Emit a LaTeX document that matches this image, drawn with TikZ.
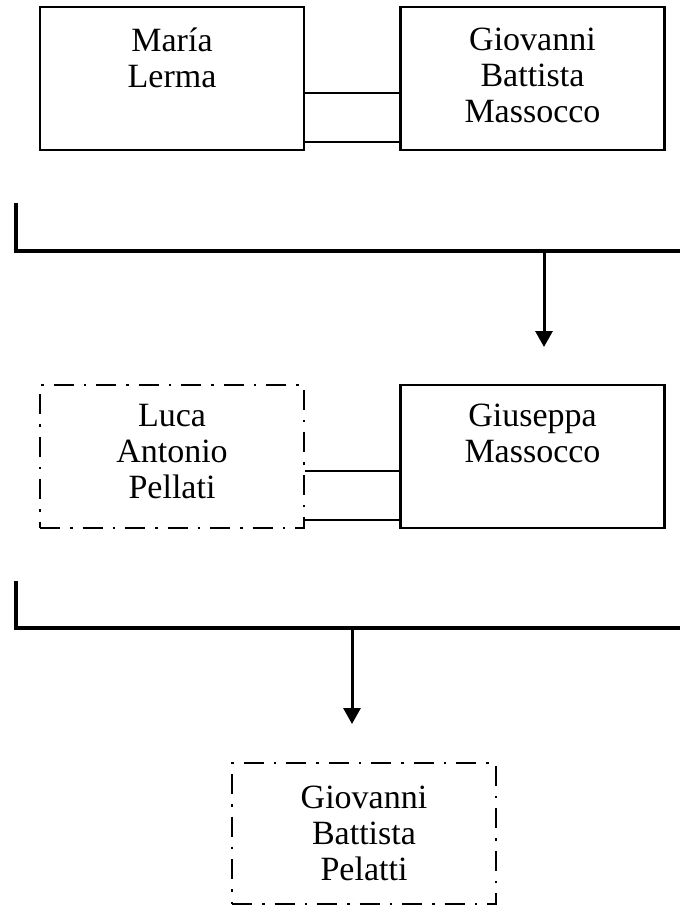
\documentclass[tikz,border=0pt]{standalone}
\usepackage{fontspec}
\setmainfont{Liberation Serif}
\usetikzlibrary{arrows.meta}

\begin{document}
\begin{tikzpicture}[x=1pt,y=-1pt,
	caja/.style={draw,line width=2.5pt,minimum width=264pt,minimum height=143pt,inner sep=0pt},
	cajapunto/.style={caja,dash pattern=on 20pt off 10pt on 2.5pt off 10pt},
	nombre/.style={anchor=north,align=center,inner sep=0pt,font=\fontsize{34}{36}\selectfont,execute at begin node=\strut},
	union/.style={line width=2pt},
	barra/.style={line width=3.5pt},
	flecha/.style={line width=3pt,-{Triangle[width=17pt,length=16pt]}}]
	\useasboundingbox (0,0) rectangle (680,906);

		% premiere generation
		\node[caja] (ML) at (172,78.5) {};
		\node[caja] (GBM) at (532.5,78.5) {};
		\node[nombre] (MLt) at ([yshift=-22pt]ML.north) {María\\Lerma};
		\node[nombre] (GBMt) at ([yshift=-22pt]GBM.north) {Giovanni\\Battista\\Massocco};
		\draw[union] ([yshift=-14.5pt]ML.east)--([yshift=-14.5pt]GBM.west);
		\draw[union] ([yshift=9pt]ML.south east)--([yshift=9pt]GBM.south west);

		\coordinate (P1) at (16,203);
		\coordinate (Q1) at (16,251);
		\coordinate (R1) at (684,251);
		\coordinate (F1) at (544,251);
		\coordinate (T1) at (544,347);
		\draw[barra] (P1)--(Q1)--(R1);
		\draw[flecha] (F1)--(T1);

		% deuxieme generation
		\node[cajapunto] (LAP) at (172,456.5) {};
		\node[caja] (GM) at (532.5,456.5) {};
		\node[nombre] (LAPt) at ([yshift=-20pt]LAP.north) {Luca\\Antonio\\Pellati};
		\node[nombre] (GMt) at ([yshift=-20pt]GM.north) {Giuseppa\\Massocco};
		\draw[union] ([yshift=-14.5pt]LAP.east)--([yshift=-14.5pt]GM.west);
		\draw[union] ([yshift=9pt]LAP.south east)--([yshift=9pt]GM.south west);

		\coordinate (P2) at (16,581);
		\coordinate (Q2) at (16,628);
		\coordinate (R2) at (684,628);
		\coordinate (F2) at (352,628);
		\coordinate (T2) at (352,724);
		\draw[barra] (P2)--(Q2)--(R2);
		\draw[flecha] (F2)--(T2);

		% troisieme generation
		\node[cajapunto,minimum height=141pt] (GBP) at (364,833.5) {};
		\node[nombre] (GBPt) at ([yshift=-24pt]GBP.north) {Giovanni\\Battista\\Pelatti};
\end{tikzpicture}
\end{document}
